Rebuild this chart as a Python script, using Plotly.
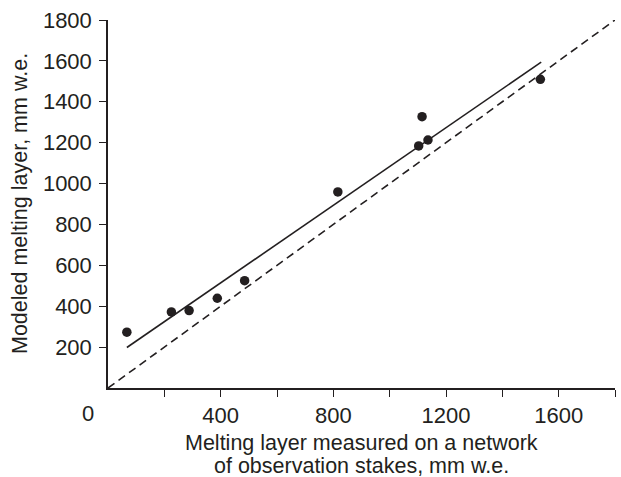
import plotly.graph_objects as go

# Data
measured = [67, 225, 288, 388, 485, 816, 1103, 1115, 1136, 1535]
modeled = [273, 372, 379, 439, 525, 959, 1184, 1327, 1213, 1510]
reg_x = [67, 1538]
reg_y = [198, 1594]
one_to_one = [0, 1800]
x_ticks = [200, 400, 600, 800, 1000, 1200, 1400, 1600, 1800]
x_tick_labels = ["", "400", "", "800", "", "1200", "", "1600", ""]
y_ticks = [200, 400, 600, 800, 1000, 1200, 1400, 1600, 1800]
x_title_lines = ["Melting layer measured on a network", "of observation stakes, mm w.e."]
y_title = "Modeled melting layer, mm w.e."

INK = "#231f20"
FONT = "Liberation Sans, Arial, Helvetica, sans-serif"
TICK_FONT = dict(family=FONT, size=22, color=INK)
TITLE_FONT = dict(family=FONT, size=21.5, color=INK)

fig = go.Figure()
fig.add_trace(go.Scatter(x=one_to_one, y=one_to_one, mode="lines",
                         line=dict(color=INK, width=1.6, dash="8px,5px"),
                         showlegend=False, hoverinfo="skip"))
fig.add_trace(go.Scatter(x=reg_x, y=reg_y, mode="lines",
                         line=dict(color=INK, width=1.6),
                         showlegend=False, hoverinfo="skip"))
fig.add_trace(go.Scatter(x=measured, y=modeled, mode="markers",
                         marker=dict(color=INK, size=9.5),
                         showlegend=False))

annotations = [
    dict(text="0", x=0, y=0, xref="x", yref="paper", xanchor="center",
         yanchor="middle", xshift=-20, yshift=-25, showarrow=False, font=TICK_FONT),
    dict(text=x_title_lines[0], x=0.5, y=0, xref="paper", yref="paper",
         xanchor="center", yanchor="middle", yshift=-55, showarrow=False,
         font=TITLE_FONT),
    dict(text=x_title_lines[1], x=0.5, y=0, xref="paper", yref="paper",
         xanchor="center", yanchor="middle", yshift=-78, showarrow=False,
         font=TITLE_FONT),
    dict(text=y_title, x=0, y=0.5, xref="paper", yref="paper",
         xanchor="center", yanchor="middle", xshift=-88, textangle=-90,
         showarrow=False, font=TITLE_FONT),
]

fig.update_layout(
    width=621, height=477,
    margin=dict(l=108, r=6, t=20, b=89),
    plot_bgcolor="white", paper_bgcolor="white",
    font=dict(family=FONT, size=18, color=INK),
    annotations=annotations,
    xaxis=dict(range=[0, 1800], tickmode="array", tickvals=x_ticks,
               ticktext=x_tick_labels, ticks="outside", ticklen=7,
               tickwidth=1.3, tickcolor=INK, showline=True, linecolor=INK,
               linewidth=1.5, showgrid=False, zeroline=False,
               tickfont=TICK_FONT, automargin=False),
    yaxis=dict(range=[0, 1800], tickmode="array", tickvals=y_ticks,
               ticks="outside", ticklen=7, tickwidth=1.3, tickcolor=INK,
               showline=True, linecolor=INK, linewidth=1.5, showgrid=False,
               zeroline=False, tickfont=TICK_FONT, ticklabelstandoff=3,
               automargin=False),
)

fig.write_html("out.html")
